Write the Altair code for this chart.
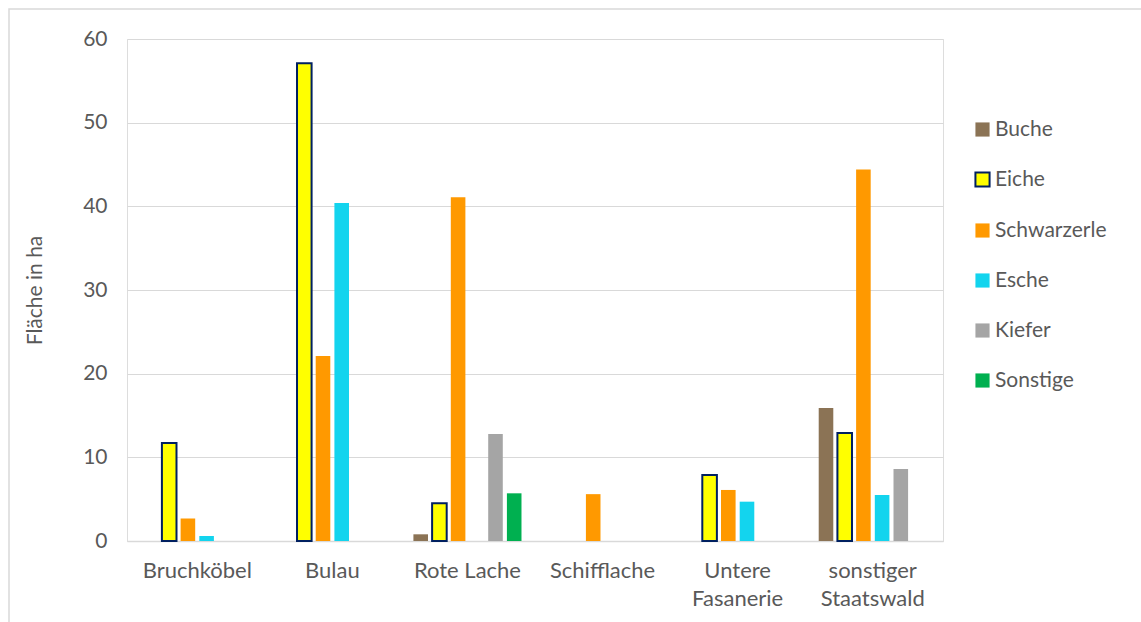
import altair as alt
import pandas as pd

# Forest areas (ha) by district and tree species
categories = ["Bruchköbel", "Bulau", "Rote Lache", "Schifflache",
              "Untere Fasanerie", "sonstiger Staatswald"]
species = ["Buche", "Eiche", "Schwarzerle", "Esche", "Kiefer", "Sonstige"]
fill_colors = ["#8B7355", "#FFFF00", "#FF9900", "#13D4EE", "#A5A5A5", "#00B050"]
eiche_outline = "#002060"

buche = [None, None, 0.8, None, None, 15.9]
eiche = [11.7, 57.1, 4.5, None, 7.9, 12.9]
schwarzerle = [2.7, 22.1, 41.1, 5.6, 6.1, 44.4]
esche = [0.6, 40.4, None, None, 4.7, 5.5]
kiefer = [None, None, 12.8, None, None, 8.6]
sonstige = [None, None, 5.7, None, None, None]

series = [buche, eiche, schwarzerle, esche, kiefer, sonstige]
rows = []
for name, vals in zip(species, series):
    for cat, v in zip(categories, vals):
        if v is not None:
            rows.append({"Gebiet": cat, "Baumart": name, "Fläche": v})
df = pd.DataFrame(rows)

font = "Lato"
grey = "#595959"
W, H = 816, 502

# light outer frame around the whole chart
frame = alt.Chart(pd.DataFrame({"k": [0]})).mark_rect(
    fill=None, stroke="#D9D9D9", strokeWidth=1.5
).encode(
    x=alt.value(-118), x2=alt.value(W + 220),
    y=alt.value(-30), y2=alt.value(H + 100),
)

label_expr = ("datum.value == 'Untere Fasanerie' ? ['Untere', 'Fasanerie'] : "
              "datum.value == 'sonstiger Staatswald' ? ['sonstiger', 'Staatswald'] : datum.value")

is_eiche = alt.datum.Baumart == "Eiche"

bars = alt.Chart(df).mark_bar().encode(
    x=alt.X("Gebiet:N", sort=categories, title=None,
            scale=alt.Scale(paddingInner=0.2, paddingOuter=0.12),
            axis=alt.Axis(labelAngle=0, labelExpr=label_expr, labelFont=font,
                          labelFontSize=22, labelColor=grey, labelPadding=19,
                          labelLineHeight=28, ticks=False, domainColor="#D9D9D9",
                          domainWidth=1.5)),
    xOffset=alt.XOffset("Baumart:N", sort=species,
                        scale=alt.Scale(domain=species, paddingInner=0.22, paddingOuter=0)),
    y=alt.Y("Fläche:Q", title="Fläche in ha",
            scale=alt.Scale(domain=[0, 60], nice=False),
            axis=alt.Axis(values=[0, 10, 20, 30, 40, 50, 60], labelFont=font,
                          labelFontSize=21, labelColor=grey, labelPadding=20,
                          ticks=False, domain=False, gridColor="#D9D9D9",
                          titleFont=font, titleFontSize=21, titleColor=grey,
                          titleFontWeight="normal", titlePadding=37)),
    fill=alt.Fill("Baumart:N", sort=species,
                  scale=alt.Scale(domain=species, range=fill_colors),
                  legend=alt.Legend(
                      title=None, orient="none", legendX=W + 29, legendY=80,
                      symbolType="square", symbolSize=200,
                      symbolStrokeColor=alt.ExprRef(
                          f"datum.value == 'Eiche' ? '{eiche_outline}' : 'transparent'"),
                      symbolStrokeWidth=alt.ExprRef("datum.value == 'Eiche' ? 2 : 0"),
                      labelFont=font, labelFontSize=21, labelColor=grey,
                      rowPadding=28, labelOffset=2)),
    stroke=alt.condition(is_eiche, alt.value(eiche_outline), alt.value("transparent")),
    strokeWidth=alt.condition(is_eiche, alt.value(2), alt.value(0)),
)

chart = alt.layer(frame, bars).properties(
    width=W, height=H,
    autosize=alt.AutoSizeParams(type="none"),
    padding={"left": 127, "top": 39, "right": 198, "bottom": 81},
).configure_view(stroke=None).configure(background="white")

chart.save("out.html", embed_options={"renderer": "svg", "actions": False})
